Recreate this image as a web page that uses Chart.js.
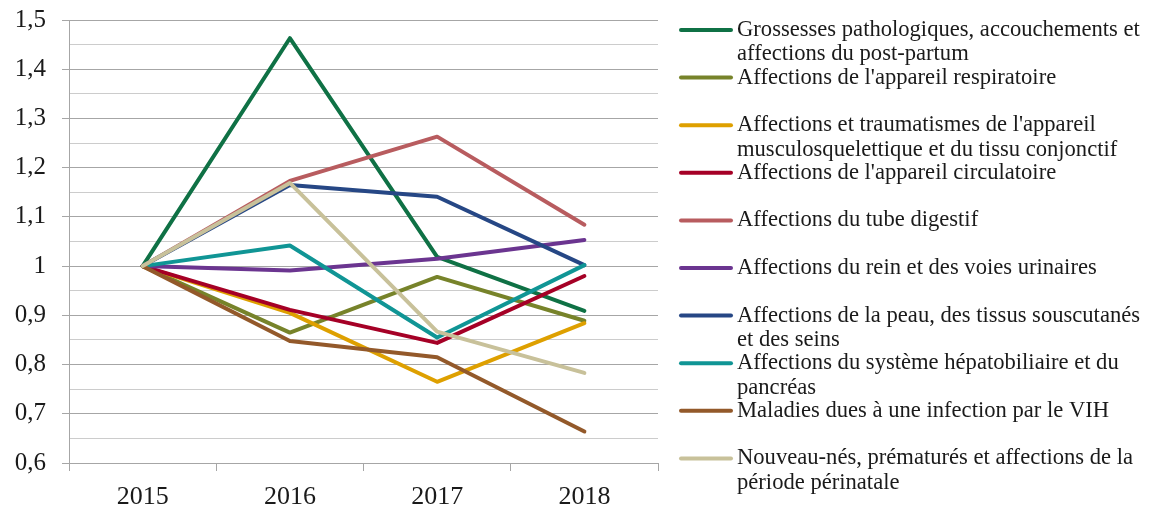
<!DOCTYPE html>
<html>
<head>
<meta charset="utf-8">
<script src="https://cdn.jsdelivr.net/npm/chart.js@4"></script>
<style>
  body { margin: 0; background: #fff; }
  #wrap { width: 1153px; height: 512px; position: relative; }
</style>
</head>
<body>
<div id="wrap"><canvas id="chart"></canvas></div>
<script>
const years = ['2015', '2016', '2017', '2018'];
const yTickLabels = ['0,6', '0,7', '0,8', '0,9', '1', '1,1', '1,2', '1,3', '1,4', '1,5'];

// series names, already split the way the legend wraps them
const seriesNames = [
  ['Grossesses pathologiques, accouchements et', 'affections du post-partum'],
  ["Affections de l'appareil respiratoire"],
  ["Affections et traumatismes de l'appareil", 'musculosquelettique et du tissu conjonctif'],
  ["Affections de l'appareil circulatoire"],
  ['Affections du tube digestif'],
  ['Affections du rein et des voies urinaires'],
  ['Affections de la peau, des tissus souscutanés', 'et des seins'],
  ['Affections du système hépatobiliaire et du', 'pancréas'],
  ['Maladies dues à une infection par le VIH'],
  ['Nouveau-nés, prématurés et affections de la', 'période périnatale']
];

const grossesses   = [1, 1.463, 1.019, 0.909];
const respiratoire = [1, 0.865, 0.978, 0.889];
const musculo      = [1, 0.905, 0.765, 0.884];
const circulatoire = [1, 0.911, 0.844, 0.980];
const digestif     = [1, 1.173, 1.263, 1.084];
const rein         = [1, 0.991, 1.015, 1.053];
const peau         = [1, 1.165, 1.141, 1.002];
const hepato       = [1, 1.042, 0.855, 1.002];
const vih          = [1, 0.848, 0.815, 0.664];
const nouveauNes   = [1, 1.169, 0.867, 0.783];

const seriesValues = [grossesses, respiratoire, musculo, circulatoire, digestif,
                      rein, peau, hepato, vih, nouveauNes];
const colors = ['#0f7145', '#77832a', '#dea000', '#a50026', '#b85c5f',
                '#6b3590', '#264785', '#109595', '#93592a', '#c8c19a'];

const FONT = '"Liberation Serif", "DejaVu Serif", serif';
const isMajor = v => Math.round(v * 100) % 10 === 0;

// legend on the right, drawn on the canvas
const sideLegend = {
  id: 'sideLegend',
  afterDraw(chart) {
    const c = chart.ctx;
    c.save();
    c.font = '22.6px ' + FONT;
    c.textBaseline = 'middle';
    c.fillStyle = '#1a1a1a';
    c.lineCap = 'round';
    chart.data.datasets.forEach((ds, i) => {
      const y = 30 + i * 47.6;
      c.strokeStyle = ds.borderColor;
      c.lineWidth = 4;
      c.beginPath();
      c.moveTo(681, y);
      c.lineTo(731, y);
      c.stroke();
      ds.lines.forEach((t, j) => c.fillText(t, 737, y + j * 24.5));
    });
    c.restore();
  }
};

new Chart(document.getElementById('chart'), {
  type: 'line',
  data: {
    labels: years,
    datasets: seriesValues.map((vals, i) => ({
      label: seriesNames[i].join(' '),
      lines: seriesNames[i],
      data: vals,
      borderColor: colors[i],
      backgroundColor: colors[i],
      borderWidth: 4,
      borderJoinStyle: 'round',
      borderCapStyle: 'round',
      pointRadius: 0,
      tension: 0,
      fill: false,
      order: seriesValues.length - i
    }))
  },
  options: {
    responsive: true,
    maintainAspectRatio: false,
    animation: false,
    layout: { padding: { top: 20, right: 495, left: 0, bottom: 0 } },
    plugins: { legend: { display: false }, tooltip: { enabled: false } },
    scales: {
      x: {
        offset: true,
        afterFit(s) { s.height = 49; },
        grid: { offset: true, drawOnChartArea: false, tickLength: 8, color: '#a6a6a6' },
        border: { color: '#a6a6a6' },
        ticks: { color: '#1a1a1a', font: { family: FONT, size: 26 }, padding: 11 }
      },
      y: {
        min: 0.6,
        max: 1.5,
        afterFit(s) { s.width = 69; s.paddingTop = 0; s.paddingBottom = 0; },
        afterBuildTicks(s) {
          s.ticks = [];
          for (let k = 0; k <= 18; k++) s.ticks.push({ value: Math.round((0.6 + k * 0.05) * 100) / 100 });
        },
        grid: {
          tickLength: 7,
          color: ctx => isMajor(ctx.tick.value) ? '#a6a6a6' : '#cccccc',
          tickColor: ctx => isMajor(ctx.tick.value) ? '#a6a6a6' : 'rgba(0,0,0,0)'
        },
        border: { color: '#a6a6a6' },
        ticks: {
          color: '#1a1a1a',
          font: { family: FONT, size: 25 },
          padding: 16,
          autoSkip: false,
          callback: v => isMajor(v) ? yTickLabels[Math.round((v - 0.6) * 10)] : ''
        }
      }
    }
  },
  plugins: [sideLegend]
});
</script>
</body>
</html>
